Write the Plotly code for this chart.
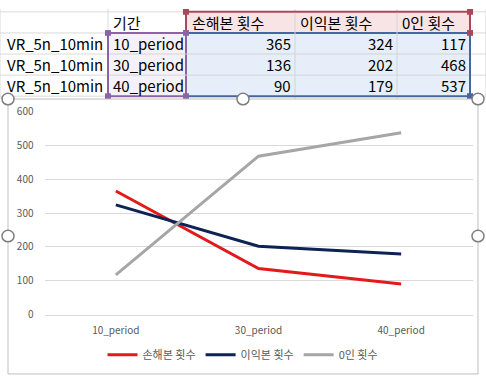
import plotly.graph_objects as go

# ---- data ----
row_labels = ["VR_5n_10min", "VR_5n_10min", "VR_5n_10min"]
categories = ["10_period", "30_period", "40_period"]
header_period = "기간"
series_names = ["손해본 횟수", "이익본 횟수", "0인 횟수"]
loss_counts = [365, 136, 90]
gain_counts = [324, 202, 179]
zero_counts = [117, 468, 537]
y_ticks = [0, 100, 200, 300, 400, 500, 600]

series_values = [loss_counts, gain_counts, zero_counts]
series_colors = ["#E31A1C", "#0D2353", "#A6A6A6"]

W, H = 486, 380
def px(x):
    return x / W
def py(y):
    return 1 - y / H

FONT = "Noto Sans CJK KR"

fig = go.Figure()
for name, vals, col in zip(series_names, series_values, series_colors):
    fig.add_trace(go.Scatter(x=categories, y=vals, name=name, mode="lines",
                             line=dict(color=col, width=3)))

shapes = []
annotations = []

# spreadsheet grid
col_edges = [0, 108, 186, 295, 397, 470, 486]
row_edges = [3, 25, 47, 69, 91]
for y in row_edges:
    shapes.append(dict(type="line", xref="paper", yref="paper", x0=0, x1=1,
                       y0=py(y), y1=py(y), line=dict(color="#D9D9D9", width=1), layer="below"))
for x in col_edges:
    shapes.append(dict(type="line", xref="paper", yref="paper", x0=px(x), x1=px(x),
                       y0=py(0), y1=py(94), line=dict(color="#D9D9D9", width=1), layer="below"))

# highlighted ranges
shapes.append(dict(type="rect", xref="paper", yref="paper", x0=px(186), x1=px(470), y0=py(3), y1=py(25),
                   fillcolor="#F8E4E4", line=dict(color="#A9485A", width=2), layer="below"))
shapes.append(dict(type="rect", xref="paper", yref="paper", x0=px(186), x1=px(470), y0=py(25), y1=py(91),
                   fillcolor="#E6EEF9", line=dict(color="#46679C", width=2), layer="below"))
shapes.append(dict(type="rect", xref="paper", yref="paper", x0=px(108), x1=px(186), y0=py(25), y1=py(91),
                   fillcolor="#F4F1F8", line=dict(color="#8B64A8", width=2), layer="below"))
for x in (295, 397):
    shapes.append(dict(type="line", xref="paper", yref="paper", x0=px(x), x1=px(x), y0=py(4), y1=py(90),
                       line=dict(color="#D4D4D4", width=1), layer="below"))
for y in (47, 69):
    shapes.append(dict(type="line", xref="paper", yref="paper", x0=px(109), x1=px(469), y0=py(y), y1=py(y),
                       line=dict(color="#D4D4D4", width=1), layer="below"))
# corner handles
for (x, y, c) in [(108, 25, "#8B64A8"), (186, 25, "#8B64A8"), (108, 91, "#8B64A8"), (186, 91, "#8B64A8"),
                  (186, 3, "#A9485A"), (470, 3, "#A9485A"), (470, 25, "#A9485A"), (470, 91, "#46679C")]:
    shapes.append(dict(type="rect", xref="paper", yref="paper", x0=px(x - 3), x1=px(x + 3),
                       y0=py(y - 3), y1=py(y + 3), fillcolor=c, line=dict(width=0), layer="below"))

# chart area
shapes.append(dict(type="rect", xref="paper", yref="paper", x0=px(8), x1=px(478), y0=py(94), y1=py(381),
                   fillcolor="white", line=dict(color="#BFBFBF", width=1), layer="below"))
for (x, y) in [(8, 94), (478, 94), (8, 237), (478, 237), (243, 94)]:
    shapes.append(dict(type="circle", xref="paper", yref="paper", x0=px(x - 6), x1=px(x + 6),
                       y0=py(y - 6), y1=py(y + 6), fillcolor="white",
                       line=dict(color="#7F7F7F", width=1.5)))

# cell texts
tf = dict(family=FONT, size=15, color="#000000")
annotations.append(dict(text=header_period, xref="paper", yref="paper", x=px(111), y=py(14),
                        xanchor="left", yanchor="middle", showarrow=False, font=tf))
hdr_x = [190, 298, 400]
for name, x in zip(series_names, hdr_x):
    annotations.append(dict(text=name, xref="paper", yref="paper", x=px(x), y=py(14),
                            xanchor="left", yanchor="middle", showarrow=False, font=tf))
row_y = [36, 58, 80]
right_x = [293, 395, 468]
for i in range(3):
    annotations.append(dict(text=row_labels[i], xref="paper", yref="paper", x=px(5), y=py(row_y[i]),
                            xanchor="left", yanchor="middle", showarrow=False, font=tf))
    annotations.append(dict(text=categories[i], xref="paper", yref="paper", x=px(111), y=py(row_y[i]),
                            xanchor="left", yanchor="middle", showarrow=False, font=tf))
    for j, vals in enumerate(series_values):
        annotations.append(dict(text=str(vals[i]), xref="paper", yref="paper", x=px(right_x[j]),
                                y=py(row_y[i]), xanchor="right", yanchor="middle", showarrow=False, font=tf))

fig.update_layout(
    width=W, height=H, autosize=False,
    margin=dict(l=0, r=0, t=0, b=0),
    paper_bgcolor="white", plot_bgcolor="rgba(0,0,0,0)",
    font=dict(family=FONT, color="#595959", size=10),
    shapes=shapes, annotations=annotations,
    showlegend=True,
    legend=dict(orientation="h", x=0.5, xanchor="center", y=py(361), yanchor="middle",
                font=dict(size=11, color="#595959"), bgcolor="rgba(0,0,0,0)",
                itemwidth=30, tracegroupgap=0),
    xaxis=dict(domain=[px(44.5), px(472.5)], range=[-0.5, 2.5], showgrid=False,
               showline=True, linecolor="#D9D9D9", linewidth=1, ticks="",
               tickfont=dict(size=10, color="#595959"), ticklabelstandoff=6, zeroline=False),
    yaxis=dict(domain=[py(319), py(107)], range=[0, 600], tickvals=y_ticks,
               showgrid=True, gridcolor="#D9D9D9", gridwidth=1, zeroline=False,
               showline=False, ticks="", tickfont=dict(size=10, color="#595959"),
               ticklabelstandoff=10),
)

post = (
    "document.documentElement.style.margin='0';"
    "document.documentElement.style.padding='0';"
    "document.documentElement.style.overflow='hidden';"
    "document.body.style.margin='0';"
    "document.body.style.padding='0';"
    "document.body.style.overflow='hidden';"
    "var d=document.getElementById('{plot_id}');"
    "d.style.position='fixed';d.style.left='0px';d.style.top='0px';"
)
fig.write_html("out.html", config={"displayModeBar": False}, post_script=post)
